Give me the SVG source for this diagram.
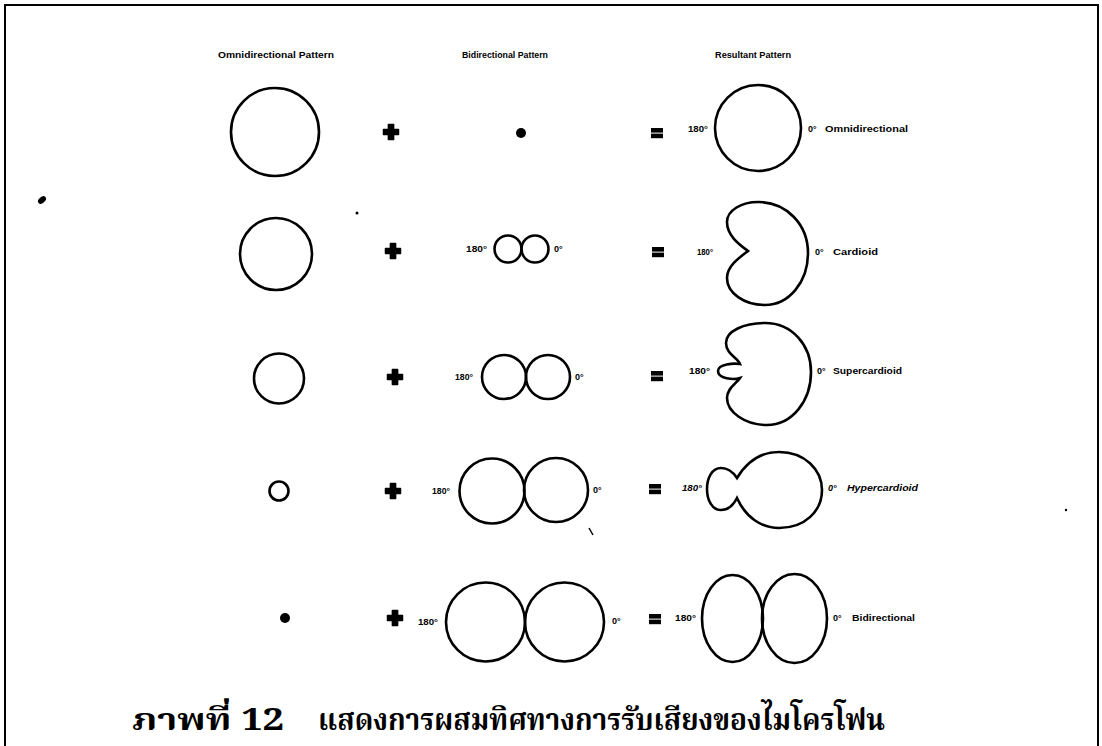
<svg xmlns="http://www.w3.org/2000/svg" width="1102" height="746" viewBox="0 0 1102 746">
<style>
.ln{fill:none;stroke:#000;stroke-width:2.6}
.blk{fill:#000}
.hd{font-family:"Liberation Sans",Arial,sans-serif;font-size:9px;font-weight:bold;fill:#000}
.lb{font-family:"Liberation Sans",Arial,sans-serif;font-size:9px;font-weight:bold;fill:#000}
.it{font-style:italic}
.cap{font-family:"Noto Serif Thai","Noto Sans Thai","Liberation Serif",serif;font-size:30px;font-weight:bold;fill:#000}
</style>
<defs>
<path id="plus" d="M-2.6,-7.5 H2.6 V-2.6 H7.5 V2.6 H2.6 V7.5 H-2.6 V2.6 H-7.5 V-2.6 H-2.6 Z" fill="#000" stroke="#000" stroke-width="1.5" stroke-linejoin="round"/>
<g id="eq"><rect x="-6" y="-5" width="12" height="4.6" fill="#000"/><rect x="-6" y="0.6" width="12" height="4.6" fill="#000"/></g>
</defs>
<rect id="frame" x="5" y="5" width="1093" height="760" fill="none" stroke="#000" stroke-width="2"/>
<g id="headers">
<text class="hd" x="218" y="58" textLength="116" lengthAdjust="spacingAndGlyphs">Omnidirectional Pattern</text>
<text class="hd" x="462" y="58" textLength="86" lengthAdjust="spacingAndGlyphs">Bidirectional Pattern</text>
<text class="hd" x="715" y="58" textLength="76" lengthAdjust="spacingAndGlyphs">Resultant Pattern</text>
</g>
<g id="row1">
<circle class="ln" cx="275" cy="132" r="44"/>
<use href="#plus" x="391" y="132"/>
<circle class="blk" cx="521" cy="133" r="5"/>
<use href="#eq" x="657" y="133"/>
<circle class="ln" cx="758" cy="128" r="43"/>
<text class="lb" x="688" y="132" textLength="20" lengthAdjust="spacingAndGlyphs">180°</text>
<text class="lb" x="808" y="132">0°</text>
<text class="lb" x="825" y="132" textLength="83" lengthAdjust="spacingAndGlyphs">Omnidirectional</text>
</g>
<g id="row2">
<circle class="ln" cx="276" cy="254" r="36"/>
<use href="#plus" x="393" y="251"/>
<circle class="ln" cx="508" cy="249" r="13.5"/>
<circle class="ln" cx="535" cy="249" r="13.5"/>
<text class="lb" x="466" y="252" textLength="21" lengthAdjust="spacingAndGlyphs">180°</text>
<text class="lb" x="554" y="252">0°</text>
<use href="#eq" x="658" y="252"/>
<path class="ln" d="M748,251 C740,245 727,236 727,222 C727,210 742,202 758,202 C787,202 808,225 808,253 C808,282 789,305 765,305 C744,305 727,293 727,278 C727,266 740,257 748,251 Z"/>
<text class="lb" x="697" y="255" textLength="16" lengthAdjust="spacingAndGlyphs">180°</text>
<text class="lb" x="815" y="255">0°</text>
<text class="lb" x="833" y="255" textLength="45" lengthAdjust="spacingAndGlyphs">Cardioid</text>
</g>
<g id="row3">
<circle class="ln" cx="279" cy="378.5" r="25"/>
<use href="#plus" x="395" y="377"/>
<circle class="ln" cx="504" cy="377" r="22"/>
<circle class="ln" cx="548" cy="377" r="22"/>
<text class="lb" x="455" y="380" textLength="18" lengthAdjust="spacingAndGlyphs">180°</text>
<text class="lb" x="575" y="380">0°</text>
<use href="#eq" x="657" y="376"/>
<path class="ln" d="M740,364 C738,358 726,354 726,343 C726,331 744,323 765,323 C792,323 811,345 811,372 C811,401 792,425 767,425 C745,425 727,412 727,398 C727,388 737,383 740,378 C734,380 718,379 718,371 C718,364 734,363 740,364 Z"/>
<text class="lb" x="689" y="374" textLength="21" lengthAdjust="spacingAndGlyphs">180°</text>
<text class="lb" x="817" y="374">0°</text>
<text class="lb" x="833" y="374" textLength="69" lengthAdjust="spacingAndGlyphs">Supercardioid</text>
</g>
<g id="row4">
<circle class="ln" cx="279" cy="491" r="9.5"/>
<use href="#plus" x="393" y="491"/>
<circle class="ln" cx="492" cy="491" r="32.5"/>
<circle class="ln" cx="556" cy="490" r="32"/>
<text class="lb" x="432" y="494" textLength="18" lengthAdjust="spacingAndGlyphs">180°</text>
<text class="lb" x="593" y="493">0°</text>
<use href="#eq" x="655" y="489"/>
<path class="ln" d="M737,478 C748,460 762,452 779,452 C805,452 822,470 822,490 C822,511 805,528 779,528 C762,528 746,518 737,498 C733,506 728,510 721,510 C712,510 707,500 707,489 C707,478 712,468 721,468 C728,468 733,472 737,478 Z"/>
<text class="lb it" x="682" y="491" textLength="20" lengthAdjust="spacingAndGlyphs">180°</text>
<text class="lb it" x="828" y="491">0°</text>
<text class="lb it" x="847" y="491" textLength="71" lengthAdjust="spacingAndGlyphs">Hypercardioid</text>
</g>
<g id="row5">
<circle class="blk" cx="285" cy="618" r="5"/>
<use href="#plus" x="395" y="618"/>
<circle class="ln" cx="485.5" cy="622" r="39.5"/>
<circle class="ln" cx="564.5" cy="622" r="39.5"/>
<text class="lb" x="418" y="625" textLength="20" lengthAdjust="spacingAndGlyphs">180°</text>
<text class="lb" x="612" y="624">0°</text>
<use href="#eq" x="655" y="619"/>
<ellipse class="ln" cx="732.5" cy="618.5" rx="30.5" ry="43.5"/>
<ellipse class="ln" cx="794.5" cy="618.5" rx="32.5" ry="44.5"/>
<text class="lb" x="675" y="621" textLength="21" lengthAdjust="spacingAndGlyphs">180°</text>
<text class="lb" x="833" y="621">0°</text>
<text class="lb" x="852" y="621" textLength="63" lengthAdjust="spacingAndGlyphs">Bidirectional</text>
</g>
<g id="specks" fill="#000">
<ellipse cx="42" cy="200" rx="4.5" ry="3" transform="rotate(-40 42 200)"/>
<circle cx="357" cy="213" r="1.5"/>
<path d="M589,528 L593,535" stroke="#000" stroke-width="1.5"/>
<circle cx="1066" cy="510" r="1.2"/>
</g>
<g id="caption">
<text class="cap" x="132" y="730" textLength="152" lengthAdjust="spacingAndGlyphs">ภาพที่ 12</text>
<text class="cap" x="318" y="730" textLength="567" lengthAdjust="spacingAndGlyphs">แสดงการผสมทิศทางการรับเสียงของไมโครโฟน</text>
</g>
</svg>
